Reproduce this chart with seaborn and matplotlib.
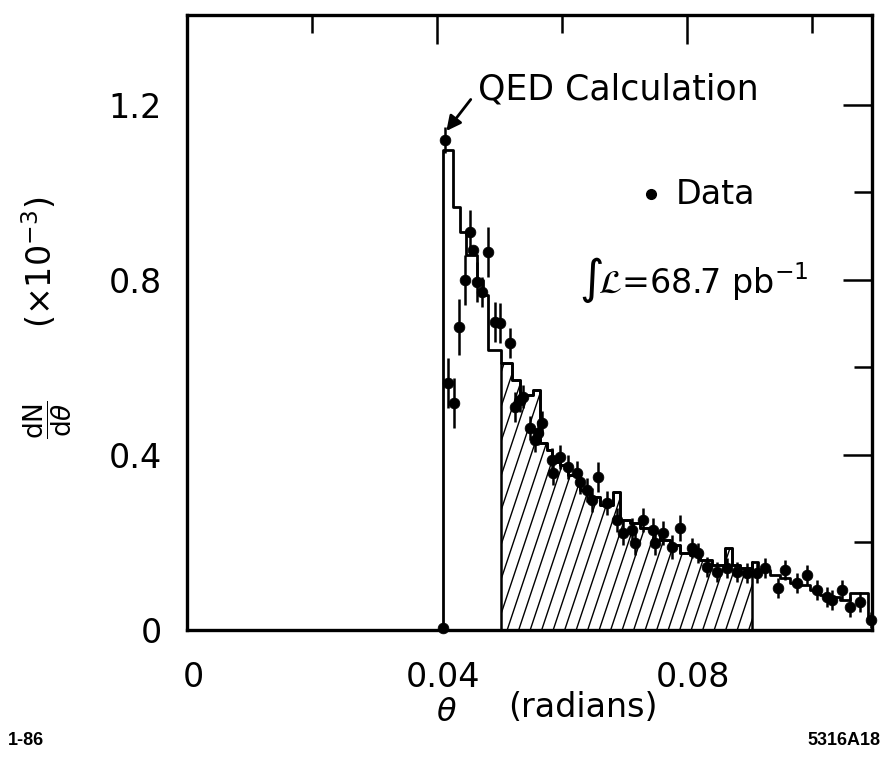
import numpy as np
import pandas as pd
import seaborn as sns
import matplotlib
matplotlib.use("Agg")
import matplotlib.pyplot as plt
from matplotlib.lines import Line2D
from matplotlib.ticker import FixedLocator
from matplotlib.transforms import ScaledTranslation

# QED calculation histogram: bin edges (radians) and heights (x 10^-3)
qed_edges = [0.0410, 0.0426, 0.0437, 0.0446, 0.0464, 0.0474, 0.0482, 0.0503,
             0.0520, 0.0533, 0.0554, 0.0565, 0.0576, 0.0584, 0.0597, 0.0610,
             0.0629, 0.0645, 0.0661, 0.0682, 0.0693, 0.0709, 0.0725, 0.0741,
             0.0757, 0.0773, 0.0789, 0.0805, 0.0821, 0.0840, 0.0861, 0.0872,
             0.0885, 0.0904, 0.0914, 0.0933, 0.0949, 0.0965, 0.0981, 0.0997,
             0.1013, 0.1029, 0.1045, 0.1061, 0.1090, 0.1096]
qed_heights = [1.097, 0.967, 0.910, 0.857, 0.800, 0.766, 0.640, 0.610,
               0.571, 0.537, 0.549, 0.427, 0.411, 0.384, 0.377, 0.354,
               0.320, 0.304, 0.286, 0.315, 0.251, 0.245, 0.233, 0.224,
               0.206, 0.194, 0.176, 0.171, 0.160, 0.149, 0.187, 0.149,
               0.142, 0.155, 0.137, 0.126, 0.119, 0.107, 0.103, 0.091,
               0.080, 0.075, 0.069, 0.085, 0.030]

# hatched part of the calculation
hatch_lo, hatch_hi = 0.0503, 0.0904

# measured dN/dtheta with errors
data_theta = [0.0410, 0.0413, 0.0418, 0.0427, 0.0435, 0.0445, 0.0453, 0.0458,
              0.0464, 0.0472, 0.0482, 0.0493, 0.0501, 0.0517, 0.0525, 0.0533,
              0.0538, 0.0549, 0.0557, 0.0562, 0.0568, 0.0584, 0.0586, 0.0597,
              0.0610, 0.0624, 0.0629, 0.0640, 0.0648, 0.0658, 0.0672, 0.0688,
              0.0698, 0.0712, 0.0717, 0.0730, 0.0746, 0.0749, 0.0762, 0.0776,
              0.0789, 0.0808, 0.0818, 0.0832, 0.0848, 0.0864, 0.0880, 0.0896,
              0.0912, 0.0925, 0.0946, 0.0957, 0.0976, 0.0992, 0.1008, 0.1024,
              0.1032, 0.1048, 0.1061, 0.1077, 0.1094]
data_dn = [0.005, 1.120, 0.565, 0.519, 0.693, 0.800, 0.910, 0.869,
           0.795, 0.773, 0.864, 0.704, 0.702, 0.656, 0.510, 0.526,
           0.533, 0.462, 0.434, 0.450, 0.473, 0.389, 0.359, 0.395,
           0.373, 0.359, 0.338, 0.320, 0.297, 0.350, 0.290, 0.251,
           0.222, 0.229, 0.199, 0.251, 0.229, 0.199, 0.222, 0.190,
           0.233, 0.187, 0.176, 0.144, 0.133, 0.142, 0.133, 0.130,
           0.130, 0.142, 0.096, 0.137, 0.107, 0.126, 0.091, 0.075,
           0.069, 0.091, 0.053, 0.064, 0.023]
data_err = [0.0, 0.030, 0.057, 0.057, 0.064, 0.057, 0.050, 0.0,
            0.046, 0.034, 0.057, 0.046, 0.046, 0.034, 0.034, 0.027,
            0.027, 0.027, 0.027, 0.027, 0.027, 0.027, 0.027, 0.027,
            0.027, 0.027, 0.027, 0.027, 0.027, 0.034, 0.027, 0.027,
            0.027, 0.027, 0.027, 0.027, 0.027, 0.027, 0.027, 0.027,
            0.030, 0.023, 0.023, 0.023, 0.023, 0.023, 0.023, 0.023,
            0.023, 0.023, 0.023, 0.023, 0.023, 0.023, 0.023, 0.023,
            0.023, 0.023, 0.023, 0.023, 0.018]

x_major = [0.0, 0.04, 0.08]
x_major_labels = ["0", "0.04", "0.08"]
x_minor = [0.02, 0.06, 0.10]
y_major = [0.0, 0.4, 0.8, 1.2]
y_major_labels = ["0", "0.4", "0.8", "1.2"]
y_minor = [0.2, 0.6, 1.0]

sns.set_style("white")
plt.rcParams["font.family"] = ["DejaVu Sans"]
plt.rcParams["mathtext.fontset"] = "dejavusans"
for key in ("text.color", "axes.labelcolor", "xtick.color", "ytick.color",
            "axes.edgecolor"):
    plt.rcParams[key] = "black"

fig = plt.figure(figsize=(8.85, 7.57), dpi=100)
ax = fig.add_axes([0.2113, 0.1678, 0.9853 - 0.2113, 0.9802 - 0.1678])

# calculation histogram outline
edges = np.array(qed_edges)
heights = np.array(qed_heights)
centers = 0.5 * (edges[:-1] + edges[1:])
hist_df = pd.DataFrame({"theta": centers, "w": heights})
sns.histplot(data=hist_df, x="theta", weights="w", bins=list(qed_edges),
             element="step", fill=True, stat="count", ax=ax, color="black",
             alpha=1.0, linewidth=2.0)
poly = ax.collections[-1]
poly.set_facecolor("none")
poly.set_edgecolor("black")
poly.set_linewidth(2.0)
ax.set_xlim(0, 0.1096)
ax.set_ylim(0, 1.405)

# hatched region under the calculation
xs_h = np.concatenate([[hatch_lo], edges[(edges > hatch_lo) & (edges < hatch_hi)], [hatch_hi]])
idx = np.searchsorted(edges, xs_h, side="right") - 1
ys_h = heights[np.clip(idx, 0, len(heights) - 1)]
hpoly = ax.fill_between(xs_h, ys_h, step="post", facecolor="none",
                        edgecolor="black", linewidth=1.8)
fig.canvas.draw()
bbox = ax.get_window_extent()
px_per_x = bbox.width / (ax.get_xlim()[1] - ax.get_xlim()[0])
px_per_y = bbox.height / (ax.get_ylim()[1] - ax.get_ylim()[0])
slope = 3.0  # steepness of the hatch strokes on screen
spacing = 11.5 / px_per_x
rise = 1.3
run = rise * px_per_y / slope / px_per_x
clip_path = hpoly.get_paths()[0]
for x0 in np.arange(hatch_lo - run, hatch_hi + spacing, spacing):
    ln = Line2D([x0, x0 + run], [0, rise], color="black", lw=1.0)
    ax.add_line(ln)
    ln.set_clip_path(clip_path, ax.transData)

# data points with error bars
pts = pd.DataFrame({"theta": data_theta, "dn": data_dn, "err": data_err})
ax.errorbar(pts["theta"], pts["dn"], yerr=pts["err"], fmt="none",
            ecolor="black", elinewidth=1.8, capsize=0)
sns.scatterplot(data=pts, x="theta", y="dn", ax=ax, color="black", s=60,
                marker="o", edgecolor="black", linewidth=0.5, zorder=5,
                clip_on=False)
ax.set_xlabel("")
ax.set_ylabel("")

# axes frame and ticks
for sp in ax.spines.values():
    sp.set_linewidth(2.4)
    sp.set_color("black")
ax.xaxis.set_major_locator(FixedLocator(x_major))
ax.xaxis.set_minor_locator(FixedLocator(x_minor))
ax.yaxis.set_major_locator(FixedLocator(y_major))
ax.yaxis.set_minor_locator(FixedLocator(y_minor))
ax.set_xticklabels(x_major_labels)
ax.set_yticklabels(y_major_labels)
ax.tick_params(which="major", direction="in", length=21, width=1.8,
               top=True, right=True, labelsize=24, colors="black")
ax.tick_params(which="minor", direction="in", length=13, width=1.8,
               top=True, right=True, colors="black")
ax.tick_params(axis="x", which="major", pad=22)
ax.tick_params(axis="y", which="major", pad=18)
shift = ScaledTranslation(6 / 100, 0, fig.dpi_scale_trans)
for lab in ax.get_xticklabels():
    lab.set_transform(lab.get_transform() + shift)

# annotations
ax.text(0.0466, 1.235, "QED Calculation", fontsize=25, ha="left",
        va="center")
ax.annotate("", xy=(0.0415, 1.14), xytext=(0.0454, 1.212),
            arrowprops=dict(arrowstyle="-|>", color="black", lw=2.0,
                            mutation_scale=22, shrinkA=0, shrinkB=0))
ax.plot([0.0743], [0.995], marker="o", color="black", ms=7)
ax.text(0.0782, 0.995, "Data", fontsize=24, ha="left", va="center")
ax.text(0.0628, 0.80, r"$\int\!\mathcal{L}$=68.7 pb$^{-1}$", fontsize=24,
        ha="left", va="center")

# axis titles
fig.text(0.054, 0.445, r"$\dfrac{\mathrm{dN}}{\mathrm{d}\theta}$", rotation=90,
         fontsize=19, ha="center", va="center")
fig.text(0.045, 0.653, r"$(\times 10^{-3})$", rotation=90, fontsize=24,
         ha="center", va="center")
fig.text(0.505, 0.059, r"$\theta$", fontsize=23, ha="center", va="center")
fig.text(0.659, 0.066, "(radians)", fontsize=24, ha="center", va="center")
fig.text(0.009, 0.022, "1-86", fontsize=13, fontweight="bold",
         family="Liberation Sans", ha="left", va="center")
fig.text(0.995, 0.022, "5316A18", fontsize=13, fontweight="bold",
         family="Liberation Sans", ha="right", va="center")

fig.savefig("out.png", dpi=100, facecolor="white")
